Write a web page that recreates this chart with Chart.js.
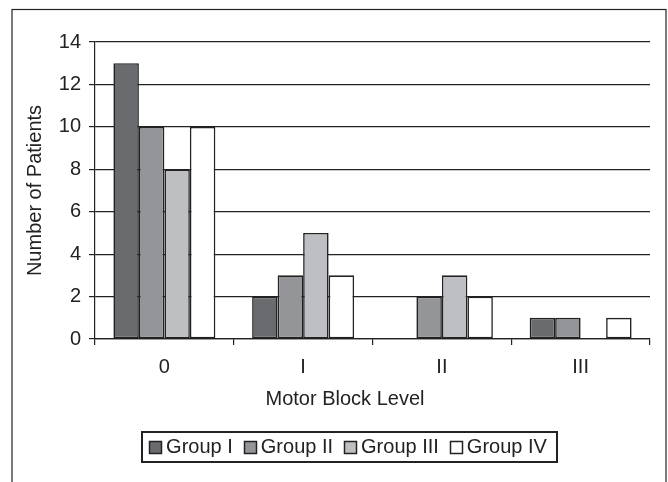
<!DOCTYPE html>
<html><head><meta charset="utf-8">
<script src="https://cdn.jsdelivr.net/npm/chart.js@4"></script>
<style>html,body{margin:0;padding:0;background:#fff;} #wrap{position:relative;width:668px;height:482px;} canvas{display:block;}</style>
</head><body><div id="wrap"><canvas id="c" width="668" height="482"></canvas></div>
<script>
const categories = ['0', 'I', 'II', 'III'];
const groupI = [13, 2, 0, 1];
const groupII = [10, 3, 2, 1];
const groupIII = [8, 5, 3, 0];
const groupIV = [10, 3, 2, 1];
const seriesNames = ['Group I', 'Group II', 'Group III', 'Group IV'];
const yTicks = [0, 2, 4, 6, 8, 10, 12, 14];
const xTitle = 'Motor Block Level';
const yTitle = 'Number of Patients';

const colors = ['#6a6b6f', '#949599', '#bebfc3', '#ffffff'];
const seriesData = [groupI, groupII, groupIII, groupIV];
const FONT = "'Liberation Sans', Arial, sans-serif";
const INK = '#222222';
const FS = 20;

const framePlugin = {
  id: 'frames',
  beforeDraw(chart) {
    const ctx = chart.ctx;
    ctx.save();
    ctx.fillStyle = '#fff';
    ctx.fillRect(0, 0, chart.width, chart.height);
    ctx.strokeStyle = INK;
    ctx.lineWidth = 1.2;
    ctx.strokeRect(12, 9.5, 654, 600);
    ctx.restore();
  },
  afterDraw(chart) {
    const lg = chart.legend;
    if (!lg || !lg.legendHitBoxes || !lg.legendHitBoxes.length) return;
    const hb = lg.legendHitBoxes;
    const ctx = chart.ctx;
    ctx.save();
    let l = Infinity, r = -Infinity, t = Infinity, b = -Infinity;
    hb.forEach((h, i) => {
      const ds = chart.data.datasets[i];
      const bx = Math.round(h.left + 6) + 0.5;
      const cy = h.top + h.height / 2;
      const by = Math.round(cy - 6.5) + 0.5;
      ctx.fillStyle = ds.backgroundColor;
      ctx.fillRect(bx, by, 12, 12);
      ctx.strokeStyle = INK;
      ctx.lineWidth = 1.5;
      ctx.strokeRect(bx, by, 12, 12);
      l = Math.min(l, h.left + 6); r = Math.max(r, h.left + h.width);
      t = Math.min(t, h.top); b = Math.max(b, h.top + h.height);
    });
    ctx.strokeStyle = INK;
    ctx.lineWidth = 2;
    const cy = (t + b) / 2;
    ctx.strokeRect(Math.round(l - 7), Math.round(cy - 15), Math.round(r - l + 17), 30);
    ctx.restore();
  }
};

new Chart(document.getElementById('c'), {
  type: 'bar',
  data: {
    labels: categories,
    datasets: seriesData.map((d, i) => ({
      label: seriesNames[i],
      data: d,
      backgroundColor: colors[i],
      borderColor: INK,
      borderWidth: 1.6,
      borderSkipped: false,
      categoryPercentage: 0.735,
      barPercentage: 1.0
    }))
  },
  options: {
    responsive: false,
    animation: false,
    devicePixelRatio: 1,
    layout: { padding: { left: 22, right: 0, top: 42, bottom: 15 } },
    plugins: {
      legend: {
        position: 'bottom',
        labels: {
          boxWidth: 13, boxHeight: 13, padding: 5,
          color: INK,
          font: { family: FONT, size: FS },
          generateLabels: (chart) => Chart.defaults.plugins.legend.labels.generateLabels(chart).map(it => Object.assign(it, {
            fillStyle: 'rgba(0,0,0,0)', strokeStyle: 'rgba(0,0,0,0)', lineWidth: 0
          }))
        }
      },
      title: {
        display: true,
        position: 'bottom',
        weight: 500,
        text: xTitle,
        color: INK,
        font: { family: FONT, size: FS, weight: 'normal' },
        padding: { top: 8, bottom: 21 }
      },
      tooltip: { enabled: false }
    },
    scales: {
      x: {
        position: 'bottom',
        afterFit: s => { s.height = 40; },
        grid: { display: true, drawOnChartArea: false, drawTicks: true, tickLength: 6, offset: true, color: INK, lineWidth: 1.2 },
        border: { display: true, color: INK, width: 1.2 },
        ticks: { color: INK, padding: 10, font: { family: FONT, size: FS } }
      },
      y: {
        position: 'left',
        min: 0, max: 14,
        afterBuildTicks: s => { s.ticks = yTicks.map(v => ({ value: v })); },
        afterFit: s => { s.width = 73; },
        grid: { color: INK, lineWidth: 1.2, tickLength: 6, drawTicks: true },
        border: { display: true, color: INK, width: 1.2 },
        ticks: { color: INK, padding: 8, font: { family: FONT, size: FS } },
        title: { display: true, text: yTitle, color: INK, font: { family: FONT, size: FS, lineHeight: 1 }, padding: { top: 3, bottom: 0 } }
      },
      yDummy: {
        position: 'right',
        type: 'linear',
        display: true,
        grid: { display: false, drawTicks: false },
        border: { display: false },
        ticks: { display: false },
        afterFit: s => { s.width = 18; }
      }
    }
  },
  plugins: [framePlugin]
});
</script>
</body></html>
